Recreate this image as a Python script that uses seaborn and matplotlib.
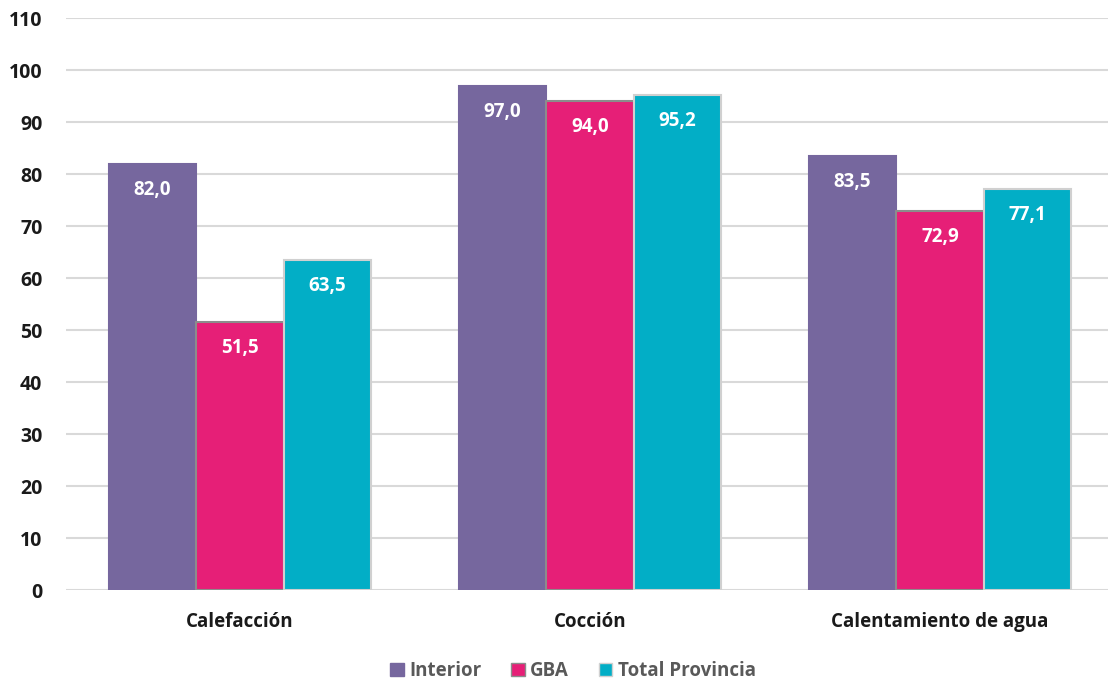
import matplotlib
matplotlib.use("Agg")
import matplotlib.pyplot as plt
import seaborn as sns
import pandas as pd
from matplotlib.patches import Patch

# Data
usos = ["Calefacción", "Cocción", "Calentamiento de agua"]
interior = [82.0, 97.0, 83.5]
gba = [51.5, 94.0, 72.9]
total_provincia = [63.5, 95.2, 77.1]
series = ["Interior", "GBA", "Total Provincia"]
yticks = list(range(0, 111, 10))

colors = {"Interior": "#76679E", "GBA": "#E61F77", "Total Provincia": "#02AEC6"}
edges = {"Interior": "#76679E", "GBA": "#8C8C8C", "Total Provincia": "#D0D0D0"}

df = pd.DataFrame({
    "uso": usos * 3,
    "serie": [s for s in series for _ in usos],
    "valor": interior + gba + total_provincia,
})

sns.set_theme(style="white")
plt.rcParams["font.family"] = ["Open Sans", "DejaVu Sans"]

fig = plt.figure(figsize=(11.08, 6.84), dpi=100)
ax = fig.add_axes([66 / 1108, 1 - 590 / 684, (1108 - 66) / 1108, (590 - 18) / 684])

sns.barplot(data=df, x="uso", y="valor", hue="serie", hue_order=series,
            palette=colors, width=0.75, gap=0, ax=ax, legend=False,
            saturation=1, zorder=3)

# edge colours per series and value labels inside the bars
for cont, s in zip(ax.containers, series):
    for bar, v in zip(cont, df.loc[df.serie == s, "valor"]):
        bar.set_edgecolor(edges[s])
        bar.set_linewidth(1.5)
        ax.text(bar.get_x() + bar.get_width() / 2, v - 5.0,
                f"{v:.1f}".replace(".", ","), ha="center", va="center",
                color="white", fontsize=13.5, fontweight="bold", zorder=4)

ax.set_ylim(0, 110)
ax.set_xlim(-0.497, 2.48)
ax.set_yticks(yticks)
ax.yaxis.grid(True, color="#D9D9D9", linewidth=1.5, zorder=0)
ax.set_axisbelow(True)
for sp in ax.spines.values():
    sp.set_visible(False)
ax.set_xlabel("")
ax.set_ylabel("")
ax.tick_params(axis="y", length=0, pad=17, labelsize=14, labelcolor="#1a1a1a")
ax.tick_params(axis="x", length=0, pad=16, labelsize=13.5, labelcolor="#1a1a1a")
for lbl in ax.get_yticklabels() + ax.get_xticklabels():
    lbl.set_fontweight("bold")

handles = [Patch(facecolor=colors[s], edgecolor=edges[s], label=s) for s in series]
leg = fig.legend(handles=handles, loc="center", bbox_to_anchor=(573 / 1108, 1 - 671 / 684),
                 ncol=3, frameon=False, handlelength=0.7, handleheight=0.7,
                 handletextpad=0.3, columnspacing=1.6,
                 prop={"size": 13.5, "weight": "bold"})
for t in leg.get_texts():
    t.set_color("#595959")

fig.savefig("out.png", dpi=100)
